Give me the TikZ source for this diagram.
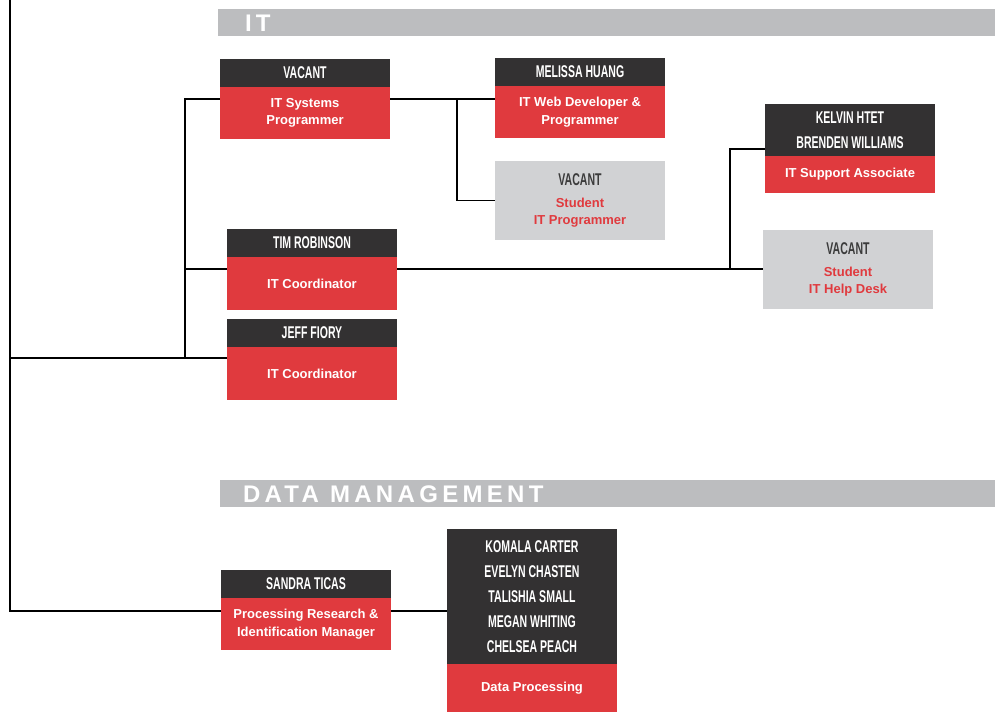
\documentclass[tikz,border=0pt]{standalone}
\usepackage{fontspec}
\setmainfont{Liberation Sans}
\newfontfamily\namefont[FakeStretch=0.62]{Liberation Sans Bold}
\newfontfamily\headfont[LetterSpace=18]{Liberation Sans}
\usetikzlibrary{positioning}
\definecolor{boxdark}{HTML}{333132}
\definecolor{boxred}{HTML}{E03A3E}
\definecolor{boxgray}{HTML}{D1D2D4}
\definecolor{bargray}{HTML}{BCBDBF}
\definecolor{vacgray}{HTML}{3B3B3B}
\tikzstyle{every node}=[inner sep=0pt, outer sep=0pt, align=center]
\tikzset{namebox/.style={fill=boxdark, text=white, minimum width=170pt, minimum height=28pt,
      font=\namefont\fontsize{17}{25}\selectfont},
  rolebox/.style={fill=boxred, text=white, minimum width=170pt, minimum height=52pt,
      font=\bfseries\fontsize{13}{17.5}\selectfont},
  studbox/.style={fill=boxgray, text=boxred, minimum width=170pt, minimum height=79pt,
      font=\bfseries\fontsize{13}{17}\selectfont},
  conn/.style={draw=black, line width=1.8pt}}
\newcommand{\vacant}{{\namefont\fontsize{17}{22}\selectfont\color{vacgray}VACANT}\\[5pt]}

\begin{document}
\begin{tikzpicture}[x=1pt, y=-1pt]
		\useasboundingbox (0,0) rectangle (995,713);
		% section bars
		\fill[bargray] (218,9) rectangle (995,36);
		\node[anchor=west, text=white, font=\headfont\bfseries\fontsize{24}{24}\selectfont] (ithead) at (245,23) {IT};
		\fill[bargray] (220,480) rectangle (995,507);
		\node[anchor=west, text=white, font=\headfont\bfseries\fontsize{24}{24}\selectfont] (dmhead) at (243,494) {DATA MANAGEMENT};
		% IT
		\node[namebox, anchor=north west] (sysname) at (220,59) {VACANT};
		\node[rolebox, below=0pt of sysname] (sysrole) {IT Systems\\Programmer};
		\node[namebox, anchor=north west] (webname) at (495,58) {MELISSA HUANG};
		\node[rolebox, below=0pt of webname] (webrole) {IT Web Developer \&\\Programmer};
		\node[studbox, anchor=north west] (stuprog) at (495,161) {\vacant Student\\IT Programmer};
		\node[namebox, anchor=north west] (timname) at (227,229) {TIM ROBINSON};
		\node[rolebox, below=0pt of timname, minimum height=53pt] (timrole) {IT Coordinator};
		\node[namebox, anchor=north west] (jeffname) at (227,319) {JEFF FIORY};
		\node[rolebox, below=0pt of jeffname, minimum height=53pt] (jeffrole) {IT Coordinator};
		\node[namebox, anchor=north west, minimum height=52pt] (kelvname) at (765,104) {KELVIN HTET\\BRENDEN WILLIAMS};
		\node[rolebox, below=0pt of kelvname, minimum height=37pt] (kelvrole) {IT Support Associate};
		\node[studbox, anchor=north west] (helpdesk) at (763,230) {\vacant Student\\IT Help Desk};
		% data management
		\node[namebox, anchor=north west] (sandname) at (221,570) {SANDRA TICAS};
		\node[rolebox, below=0pt of sandname] (sandrole) {Processing Research \&\\Identification Manager};
		\node[namebox, anchor=north west, minimum height=135pt] (procname) at (447,529)
		  {KOMALA CARTER\\EVELYN CHASTEN\\TALISHIA SMALL\\MEGAN WHITING\\CHELSEA PEACH};
		\node[rolebox, below=0pt of procname, minimum height=48pt] (procrole) {Data Processing};
		% connectors
		\coordinate (top) at (10,0);
		\coordinate (itj) at (10,358);
		\coordinate (dmj) at (10,611);
		\coordinate (itbus) at (185,358);
		\coordinate (sysj) at (185,99);
		\coordinate (timj) at (185,269);
		\coordinate (webj) at (457,99);
		\coordinate (helpj) at (730,269);
		\coordinate (kelvj) at (730,149);
		\draw[conn] (top) -- (dmj) -- (sandrole.west |- dmj);
		\draw[conn] (itj) -- (jeffrole.west |- itj);
		\draw[conn] (itbus) -- (sysj) -- (sysrole.west |- sysj);
		\draw[conn] (timj) -- (timrole.west |- timj);
		\draw[conn] (sysrole.east |- sysj) -- (webrole.west |- sysj);
		\draw[conn] (webj) |- (stuprog.west);
		\draw[conn] (timrole.east |- timj) -- (helpdesk.west |- timj);
		\draw[conn] (helpj) -- (kelvj) -- (kelvname.west |- kelvj);
		\draw[conn] (sandrole.east |- dmj) -- (procname.west |- dmj);
\end{tikzpicture}
\end{document}
